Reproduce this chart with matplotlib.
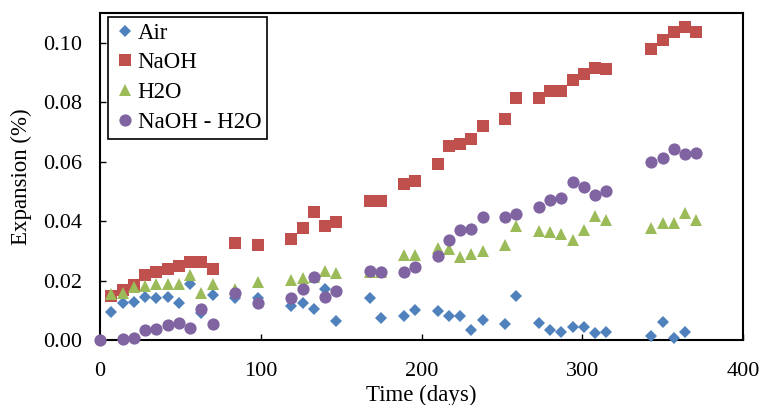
import numpy as np
import matplotlib
matplotlib.use('Agg')
import matplotlib.pyplot as plt

plt.rcParams['font.family'] = ['Liberation Serif', 'DejaVu Serif']

nan = np.nan

# time in days
days = [0, 7, 14, 21, 28, 35, 42, 49, 56, 63, 70, 84, 98, 119, 126, 133, 140, 147,
        168, 175, 189, 196, 210, 217, 224, 231, 238, 252, 259, 273, 280, 287, 294,
        301, 308, 315, 343, 350, 357, 364, 371]

# expansion (%)
air = [nan, 0.0095, 0.0123, 0.0128, 0.0145, 0.0142, 0.0145, 0.0126, 0.0190, 0.0090,
       0.0151, 0.0140, 0.0142, 0.0114, 0.0123, 0.0104, 0.0173, 0.0064, 0.0140, 0.0073,
       0.0081, 0.0101, 0.0097, 0.0081, 0.0081, 0.0034, 0.0067, 0.0055, 0.0147, 0.0056,
       0.0034, 0.0028, 0.0045, 0.0045, 0.0023, 0.0028, 0.0014, 0.0062, 0.0008, 0.0026, nan]

naoh = [nan, 0.0147, 0.0168, 0.0184, 0.0218, 0.0229, 0.0240, 0.0248, 0.0262, 0.0262,
        0.0240, 0.0326, 0.0318, 0.0340, 0.0377, 0.0429, 0.0385, 0.0398, 0.0466, 0.0466,
        0.0524, 0.0535, 0.0591, 0.0653, 0.0658, 0.0675, 0.0719, 0.0742, 0.0814, 0.0814,
        0.0839, 0.0839, 0.0873, 0.0894, 0.0915, 0.0911, 0.0978, 0.1009, 0.1035, 0.1052, 0.1035]

h2o = [nan, 0.0154, 0.0159, 0.0177, 0.0181, 0.0190, 0.0188, 0.0187, 0.0220, 0.0157,
       0.0187, 0.0170, 0.0195, 0.0201, 0.0207, 0.0212, 0.0232, 0.0225, 0.0228, 0.0228,
       0.0285, 0.0285, 0.0310, 0.0307, 0.0279, 0.0290, 0.0301, 0.0321, 0.0385, 0.0366,
       0.0363, 0.0357, 0.0337, 0.0371, 0.0418, 0.0405, 0.0376, 0.0393, 0.0393, 0.0426, 0.0405]

naoh_h2o = [0.0, nan, 0.0003, 0.0006, 0.0034, 0.0036, 0.0051, 0.0056, 0.0039, 0.0103,
            0.0054, 0.0159, 0.0123, 0.0140, 0.0173, 0.0212, 0.0145, 0.0164, 0.0232, 0.0229,
            0.0229, 0.0246, 0.0282, 0.0338, 0.0371, 0.0374, 0.0413, 0.0413, 0.0424, 0.0446,
            0.0472, 0.0476, 0.0532, 0.0515, 0.0489, 0.0502, 0.0599, 0.0611, 0.0641, 0.0625, 0.0628]

fig = plt.figure(figsize=(7.61, 4.05), dpi=100)
ax = fig.add_axes([0.1314, 0.1605, 0.845, 0.8075])

# same look as the Excel default series
ax.plot(days, air, 'D', ms=6.4, color='#4F81BD', mew=0, label='Air', clip_on=False, zorder=3)
ax.plot(days, naoh, 's', ms=8.8, color='#C0504D', mew=0, label='NaOH', clip_on=False, zorder=3)
ax.plot(days, h2o, '^', ms=9.2, color='#9BBB59', mew=0, label='H2O', clip_on=False, zorder=3)
ax.plot(days, naoh_h2o, 'o', ms=8.8, color='#8064A2', mew=0, label='NaOH - H2O', clip_on=False, zorder=3)

ax.set_xlim(0, 400)
ax.set_ylim(0, 0.11)
ax.set_xticks([0, 100, 200, 300, 400])
ax.set_yticks([0, 0.02, 0.04, 0.06, 0.08, 0.10])
ax.set_yticklabels(['0.00', '0.02', '0.04', '0.06', '0.08', '0.10'])

ax.tick_params(axis='both', direction='in', length=4.3, width=1, labelsize=16, color='black')
ax.tick_params(axis='x', pad=15.5)
ax.tick_params(axis='y', pad=13)
for s in ax.spines.values():
    s.set_linewidth(1.5)
    s.set_color('black')

ax.set_xlabel('Time (days)', fontsize=16.5, labelpad=3)
ax.set_ylabel('Expansion (%)', fontsize=16.5, labelpad=8)

leg = ax.legend(loc='upper left', bbox_to_anchor=(0.0124, 0.988), borderaxespad=0,
                fontsize=16.5, frameon=True, fancybox=False, edgecolor='black',
                borderpad=0.25, labelspacing=0.38, handlelength=0.95, handletextpad=0.1)
leg.get_frame().set_linewidth(1.2)
leg.get_frame().set_alpha(1)

fig.savefig('out.png', dpi=100)
